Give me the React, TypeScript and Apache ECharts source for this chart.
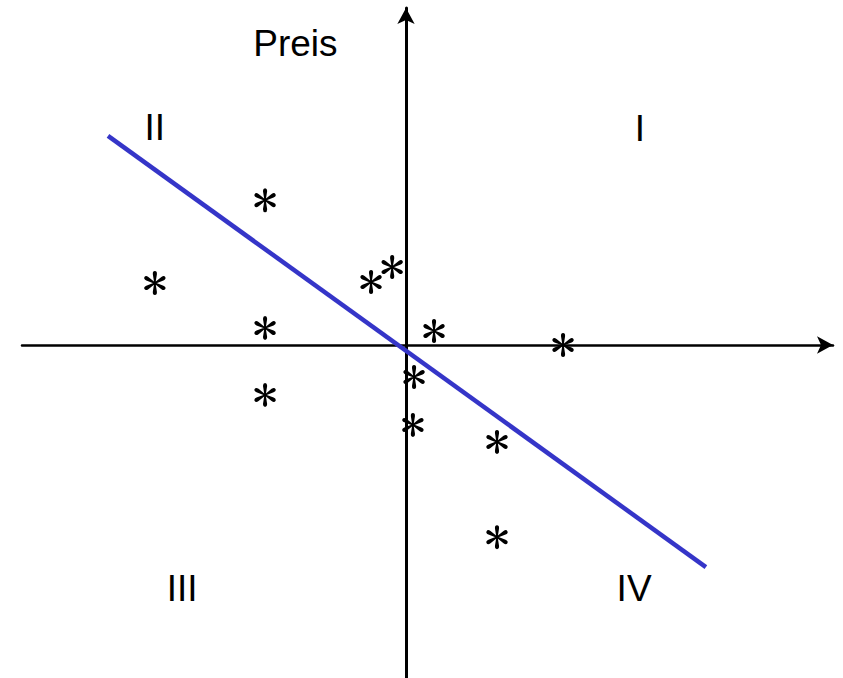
import React, { useEffect, useRef } from "react";
import * as echarts from "echarts";

// Scatter observations (asterisks), in axis units
const starX = [-3.67, -6.54, -0.91, -0.36, -3.67, 0.73, 4.09, -3.67, 0.21, 0.18, 2.37, 2.37];
const starY = [4.35, 1.86, 1.89, 2.34, 0.51, 0.42, 0.0, -1.5, -0.96, -2.4, -2.91, -5.77];

// Regression line end points
const lineX = [-7.76, 7.81];
const lineY = [6.28, -6.67];

// Quadrant labels
const quadrantNames = ["I", "II", "III", "IV"];
const quadrantX = [6.09, -6.54, -5.83, 5.94];
const quadrantY = [6.49, 6.52, -7.3, -7.3];

// Axis name
const axisName = "Preis";
const axisNameX = -2.88;
const axisNameY = 9.04;

// Six-armed serif-style asterisk marker (teardrop arms), built as an SVG path
function asteriskPath(): string {
  const c = 50;
  const parts: string[] = [];
  const f = (n: number) => n.toFixed(2);
  for (let k = 0; k < 6; k++) {
    const th = (k * 60 * Math.PI) / 180;
    const s = Math.sin(th);
    const co = Math.cos(th);
    const P = (r: number, t: number) => [c + r * s + t * co, c - r * co + t * s];
    const a = P(0, -2.2);
    const b = P(29, -6.8);
    const q1 = P(40, -7.6);
    const tip = P(40, 0);
    const q2 = P(40, 7.6);
    const d = P(29, 6.8);
    const e = P(0, 2.2);
    parts.push(
      `M${f(a[0])} ${f(a[1])}L${f(b[0])} ${f(b[1])}Q${f(q1[0])} ${f(q1[1])} ${f(tip[0])} ${f(tip[1])}Q${f(q2[0])} ${f(q2[1])} ${f(d[0])} ${f(d[1])}L${f(e[0])} ${f(e[1])}Z`
    );
  }
  return "path://" + parts.join("");
}

export default function App() {
  const ref = useRef<HTMLDivElement>(null);
  useEffect(() => {
    if (!ref.current) return;
    const chart = echarts.init(ref.current, null, { renderer: "svg" });
    const axisCommon = {
      type: "value" as const,
      axisTick: { show: false },
      axisLabel: { show: false },
      splitLine: { show: false },
    };
    const textCommon = {
      show: true,
      position: "inside" as const,
      color: "#000000",
      textBorderWidth: 0,
      textBorderColor: "transparent",
    };
    chart.setOption({
      animation: false,
      backgroundColor: "#ffffff",
      grid: { left: 22, right: 10, top: 8, bottom: 0 },
      xAxis: {
        ...axisCommon,
        min: -10,
        max: 11.12,
        axisLine: {
          show: true,
          onZero: true,
          symbol: ["none", "arrow"],
          symbolSize: [13, 16],
          lineStyle: { color: "#000", width: 2.5 },
        },
      },
      yAxis: {
        ...axisCommon,
        min: -10,
        max: 10.12,
        axisLine: {
          show: true,
          onZero: true,
          symbol: ["none", "arrow"],
          symbolSize: [13, 16],
          lineStyle: { color: "#000", width: 3 },
        },
      },
      series: [
        {
          type: "line",
          data: lineX.map((x, i) => [x, lineY[i]]),
          showSymbol: false,
          lineStyle: { color: "#3535c8", width: 4.5 },
          z: 3,
        },
        {
          type: "scatter",
          data: starX.map((x, i) => [x, starY[i]]),
          symbol: asteriskPath(),
          symbolKeepAspect: true,
          symbolSize: 24,
          itemStyle: { color: "#000000", opacity: 1 },
          z: 4,
        },
        {
          type: "scatter",
          data: quadrantX.map((x, i) => ({ value: [x, quadrantY[i]], name: quadrantNames[i] })),
          symbolSize: 0,
          itemStyle: { opacity: 1 },
          label: {
            ...textCommon,
            formatter: "{b}",
            fontFamily: "Liberation Sans",
            fontSize: 37,
          },
        },
        {
          type: "scatter",
          data: [{ value: [axisNameX, axisNameY], name: axisName }],
          symbolSize: 0,
          itemStyle: { opacity: 1 },
          label: {
            ...textCommon,
            formatter: "{b}",
            fontFamily: "Liberation Sans",
            fontSize: 37,
          },
        },
      ],
    });
    return () => chart.dispose();
  }, []);
  return (
    <div
      ref={ref}
      style={{ position: "fixed", left: 0, top: 0, width: 843, height: 678 }}
    />
  );
}
